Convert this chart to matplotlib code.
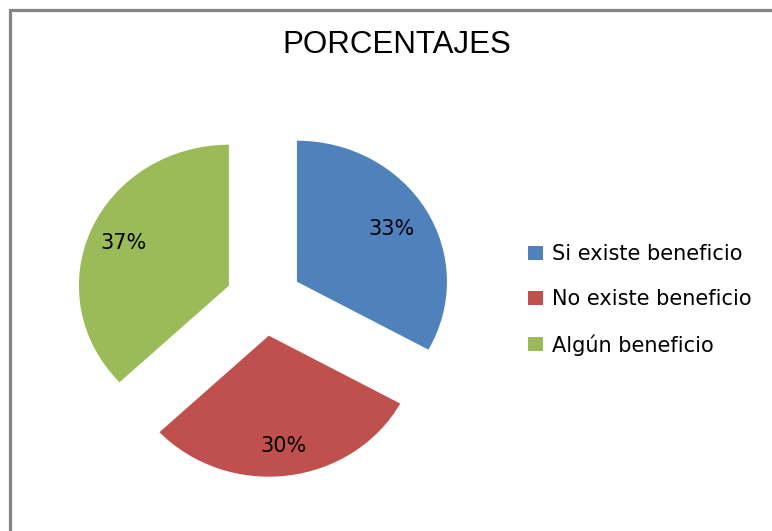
import matplotlib
matplotlib.use("Agg")
import numpy as np
import matplotlib.pyplot as plt
from matplotlib.patches import Rectangle

categories = ["Si existe beneficio", "No existe beneficio", "Algún beneficio"]
values = [33, 30, 37]
colors = ["#4F81BD", "#C0504D", "#9BBB59"]
title = "PORCENTAJES"
label_dist = [0.73, 0.79, 0.765]

W, H = 772, 531
fig = plt.figure(figsize=(W / 100, H / 100), dpi=100)
fig.patch.set_facecolor("white")

# outer border
fig.add_artist(Rectangle((10 / W, -0.05), 1.2, 1 - 9.5 / H + 0.05,
                         transform=fig.transFigure, fill=False,
                         edgecolor="#868686", linewidth=2.3, clip_on=False))

cx, cy, rx, ry = 264, 300, 150, 141
lim = 1.5
ax = fig.add_axes([(cx - lim * rx) / W, (H - cy - lim * ry) / H,
                   2 * lim * rx / W, 2 * lim * ry / H])
wedges, texts, autotexts = ax.pie(
    values, colors=colors, startangle=90, counterclock=False,
    explode=[0.255] * 3, autopct="%d%%", pctdistance=0.76,
    textprops=dict(fontsize=15, family="DejaVu Sans", color="black"),
    wedgeprops=dict(linewidth=0))
for w, t, d in zip(wedges, autotexts, label_dist):
    ang = np.deg2rad((w.theta1 + w.theta2) / 2)
    x0, y0 = w.center
    t.set_position((x0 + d * np.cos(ang), y0 + d * np.sin(ang)))
ax.set_aspect("auto")
ax.set_xlim(-lim, lim)
ax.set_ylim(-lim, lim)
ax.axis("off")

fig.text(396.5 / W, 1 - 45 / H, title, ha="center", va="center",
         fontsize=22.5, family="Liberation Sans", color="black")

leg = fig.legend(wedges, categories, loc="center left",
                 bbox_to_anchor=(528 / W, 1 - 300 / H), frameon=False,
                 prop=dict(family="DejaVu Sans", size=15),
                 handlelength=0.7, handleheight=0.65, handletextpad=0.43,
                 labelspacing=1.19, borderpad=0, borderaxespad=0)

fig.savefig("out.png", dpi=100, facecolor="white")
